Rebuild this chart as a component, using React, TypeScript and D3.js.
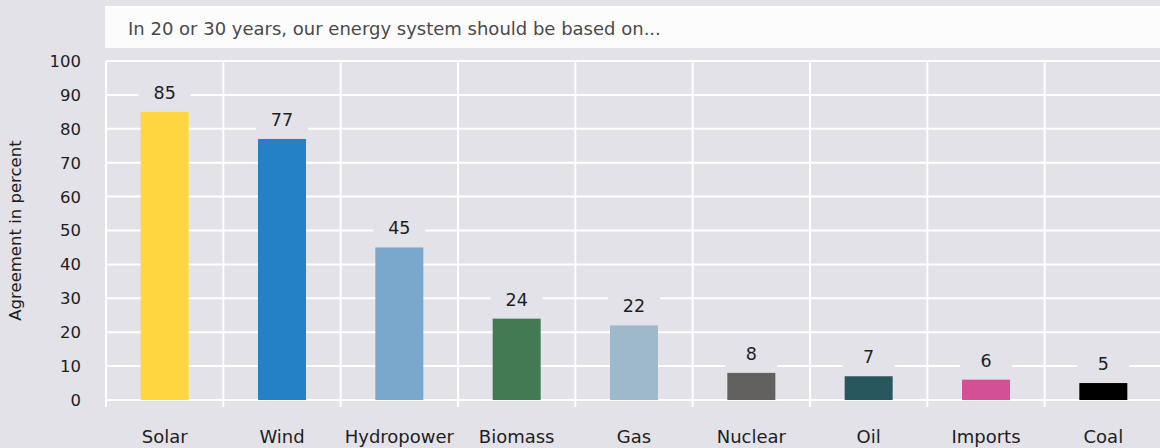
import React from 'react';
import * as d3 from 'd3';

const categories = ['Solar', 'Wind', 'Hydropower', 'Biomass', 'Gas', 'Nuclear', 'Oil', 'Imports', 'Coal'];
const values = [85, 77, 45, 24, 22, 8, 7, 6, 5];
const colors = ['#ffd640', '#2581c6', '#7aa8cc', '#437953', '#9eb9cc', '#626160', '#28585d', '#d35095', '#000000'];
const yTicks = [0, 10, 20, 30, 40, 50, 60, 70, 80, 90, 100];
const title = 'In 20 or 30 years, our energy system should be based on...';

const W = 1160;
const H = 448;
const BG = '#e2e2e8';
const FONT = '"DejaVu Sans", sans-serif';

export default function App() {
  const margin = { top: 61, right: 0, bottom: 48, left: 106 };
  const x = d3.scaleBand<string>().domain(categories).range([margin.left, W + 2]).paddingInner(0).paddingOuter(0);
  const y = d3.scaleLinear().domain([0, 100]).range([H - margin.bottom, margin.top]);
  const barW = 48;

  return (
    <svg width={W} height={H} style={{ position: 'absolute', left: 0, top: 0, background: BG }}>
      <rect x={0} y={0} width={W} height={H} fill={BG} />
      <rect x={105} y={6} width={W - 105} height={42} fill="#fcfcfc" />
      <text x={128} y={35} fontFamily={FONT} fontSize={18} fill="#4a4a4a">{title}</text>

      {/* horizontal grid */}
      {yTicks.map(t => (
        <line key={'h' + t} x1={margin.left} x2={W} y1={y(t)} y2={y(t)} stroke="#fff" strokeWidth={2} />
      ))}
      {/* vertical grid + ticks */}
      {categories.map(c => (
        <line key={'v' + c} x1={x(c)!} x2={x(c)!} y1={y(100)} y2={y(0) + 7} stroke="#fff" strokeWidth={2} />
      ))}

      {/* y tick labels */}
      {yTicks.map(t => (
        <text key={'yt' + t} x={81} y={y(t)} dy="0.36em" textAnchor="end" fontFamily={FONT} fontSize={16.5} fill="#1e1e1e">{t}</text>
      ))}
      <text transform={`translate(21,${(y(0) + y(100)) / 2}) rotate(-90)`} textAnchor="middle" fontFamily={FONT} fontSize={16.5} fill="#1e1e1e">Agreement in percent</text>

      {/* bars and labels */}
      {categories.map((c, i) => {
        const cx = x(c)! + x.bandwidth() / 2;
        const top = y(values[i]);
        return (
          <g key={'b' + c}>
            <rect x={cx - barW / 2} y={top} width={barW} height={y(0) - top} fill={colors[i]} />
            <rect x={cx - 26} y={top - 34} width={52} height={30} fill={BG} />
            <text x={cx} y={top - 13} textAnchor="middle" fontFamily={FONT} fontSize={17.5} fill="#1e1e1e">{values[i]}</text>
            <text x={cx} y={443} textAnchor="middle" fontFamily={FONT} fontSize={18} fill="#1e1e1e">{c}</text>
          </g>
        );
      })}
    </svg>
  );
}
